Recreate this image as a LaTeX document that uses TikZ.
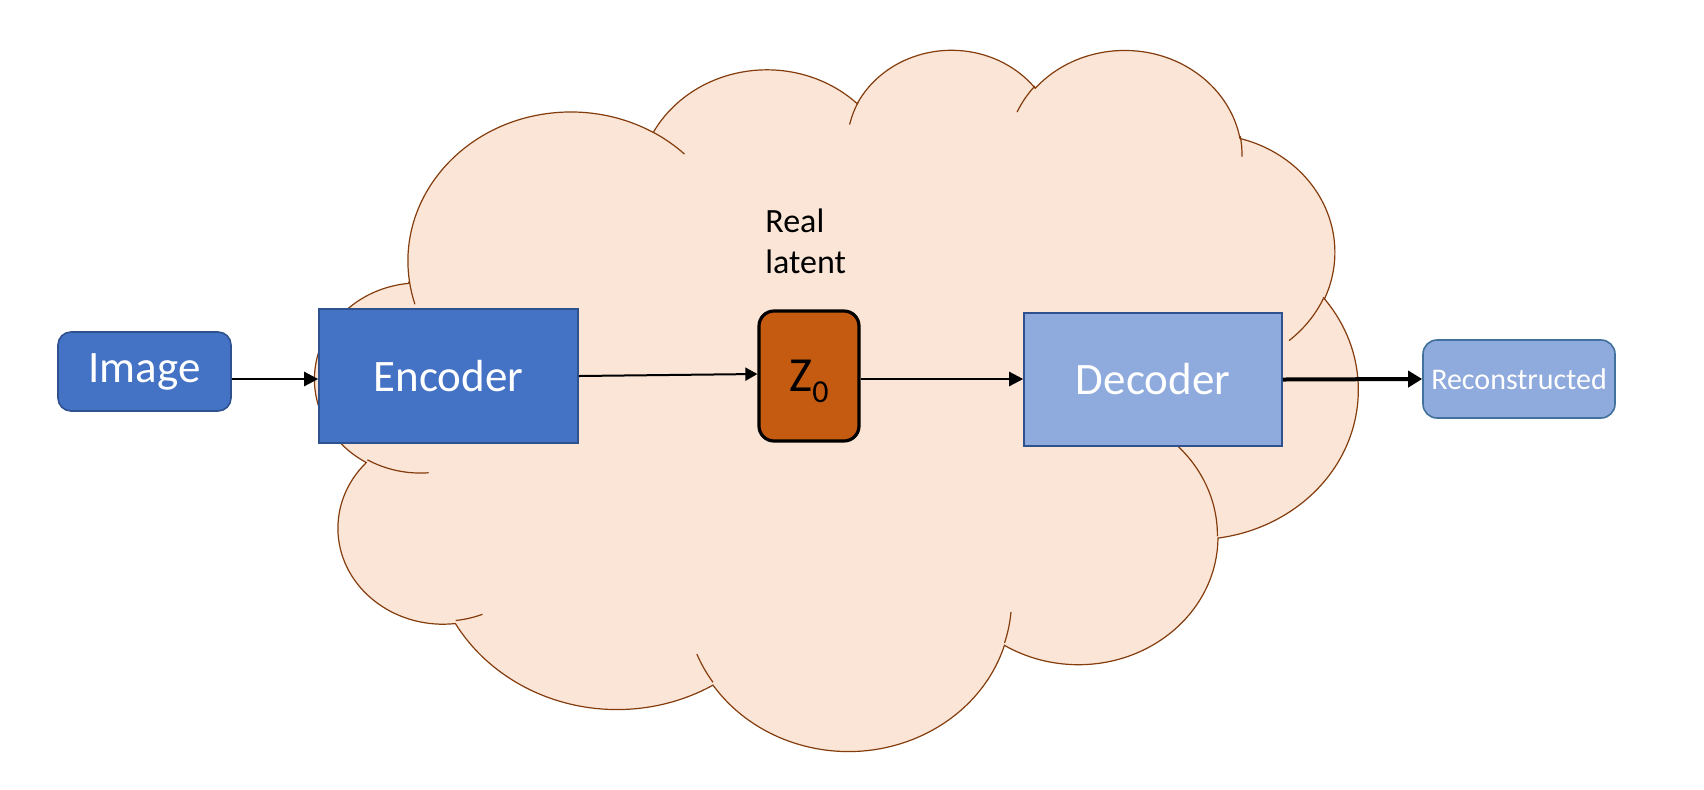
\documentclass[tikz,border=0pt]{standalone}
\usepackage{fontspec}
\setmainfont{Carlito}
\usetikzlibrary{arrows.meta}
\definecolor{encblue}{HTML}{4472C4}
\definecolor{encborder}{HTML}{2F528F}
\definecolor{decblue}{HTML}{8FAADC}
\definecolor{recborder}{HTML}{41719C}
\definecolor{zorange}{HTML}{C55A11}
\definecolor{cloudfill}{HTML}{FBE5D6}
\definecolor{cloudline}{HTML}{843C0C}
% elliptic arc with OOXML-style visual angles
\newcommand\carc[4]{%
  \pgfextra{%
    \pgfmathparse{atan2((#1)*sin(#3),(#2)*cos(#3))}\xdef\cldA{\pgfmathresult}%
    \pgfmathparse{atan2((#1)*sin((#3)+(#4)),(#2)*cos((#3)+(#4)))}\xdef\cldB{\pgfmathresult}%
    \pgfmathparse{mod(\cldB-\cldA+720,360)}\xdef\cldD{\pgfmathresult}%
  }
  arc[x radius=#1, y radius=#2, start angle=\cldA, delta angle=\cldD]}
\tikzset{
  cloudshape/.style={fill=cloudfill, draw=cloudline, line width=0.6pt},
  cloudinner/.style={draw=cloudline, line width=0.6pt},
  darkbox/.style={fill=encblue, draw=encborder, line width=0.8pt, text=white, inner sep=0pt},
  lightbox/.style={fill=decblue, draw=encborder, line width=0.8pt, text=white, inner sep=0pt},
  bigtext/.style={font=\fontsize{22.5}{27}\selectfont},
  arr/.style={-{Triangle[length=7pt,width=7pt]}, line width=1.2pt},
  thinarr/.style={-{Triangle[length=6pt,width=6.5pt]}, line width=1pt},
  thickarr/.style={-{Triangle[length=7pt,width=8pt]}, line width=2pt},
}
\begin{document}
\begin{tikzpicture}[x=0.5pt, y=-0.5pt]
\path[use as bounding box, fill=white] (0,0) rectangle (1704,789);

% cloud
\begin{scope}[shift={(315.3,48)}, x=0.120660pt, y=-0.081134pt]
\path[cloudshape] (390,1437)
  \carc{675.3}{919.0}{-190.48748}{123.78053}
  \carc{533.3}{726.7}{-144.10238}{89.94523}
  \carc{436.5}{594.5}{-145.80792}{99.72302}
  \carc{485.7}{659.5}{-130.98607}{117.24173}
  \carc{533.3}{727.3}{-78.70888}{109.02692}
  \carc{677.5}{922.0}{-46.26725}{130.26900}
  \carc{578.5}{786.7}{0.62502}{114.03333}
  \carc{675.2}{921.5}{22.45160}{115.17255}
  \carc{772.0}{1054.3}{66.24263}{75.71102}
  \carc{436.0}{591.8}{-274.94208}{146.73557}
  \carc{434.5}{594.5}{-246.82850}{152.51885}
  -- cycle;
\path[cloudinner] (469.3,2617.7) \carc{434.5}{594.5}{86.7420}{26.4295};
\path[cloudinner] (692.8,3489.9) \carc{436.0}{591.8}{73.61047}{11.44747};
\path[cloudinner] (1647.8,3909.0) \carc{675.2}{921.5}{137.62415}{14.0811};
\path[cloudinner] (2882.7,3475.1) \carc{675.2}{921.5}{6.45327}{15.99835};
\path[cloudinner] (3412.9,2295.4) \carc{578.5}{786.7}{-70.29235}{70.91737};
\path[cloudinner] (4179.8,1535.4) \carc{533.3}{727.3}{30.31803}{27.7515};
\path[cloudinner] (3832.4,542.6) \carc{485.7}{659.5}{-13.74433}{14.8589};
\path[cloudinner] (2907.8,395.2) \carc{485.7}{659.5}{-149.18145}{18.19537};
\path[cloudinner] (2214.1,472.0) \carc{436.5}{594.5}{-163.49427}{17.68635};
\path[cloudinner] (1400.0,519.2) \carc{675.3}{919.0}{-66.70695}{12.31935};
\path[cloudinner] (412.7,1578.9) \carc{675.3}{919.0}{157.65435}{11.85817};
\end{scope}

% nodes
\node[darkbox, bigtext, rounded corners=6.5pt, minimum width=86.5pt, minimum height=39.5pt] (img) at (144.5,371.5) {Image};
\node[darkbox, bigtext, minimum width=129.5pt, minimum height=67pt] (enc) at (448.5,376) {Encoder};
\node[fill=zorange, draw=black, line width=1.6pt, rounded corners=7.5pt, minimum width=50pt, minimum height=65pt, inner sep=0pt, text depth=0pt, font=\fontsize{24.5}{29}\selectfont] (z) at (809,376) {Z\raisebox{-5.5pt}{\fontsize{16}{19}\selectfont 0}};
\node[lightbox, bigtext, minimum width=129pt, minimum height=66.5pt] (dec) at (1153,379.5) {Decoder};
\node[lightbox, draw=recborder, rounded corners=7pt, minimum width=96pt, minimum height=39pt, font=\fontsize{15}{18}\selectfont] (rec) at (1519,379) {Reconstructed};
\node[anchor=base west, inner sep=0pt, align=left, font=\fontsize{17}{20.5}\selectfont] (lbl) at (765,273) {Real\\latent};

% connectors
\coordinate (ia) at ([yshift=-3.75pt]img.east);
\draw[arr] (ia) -- (ia -| enc.west);
\draw[thinarr] (enc.east) -- ([yshift=1pt]z.west);
\draw[arr] ([yshift=-1.5pt]z.east) -- ([yshift=-1.5pt]z.east -| dec.west);
\draw[thickarr] (dec.east) -- (rec.west);
\end{tikzpicture}
\end{document}
